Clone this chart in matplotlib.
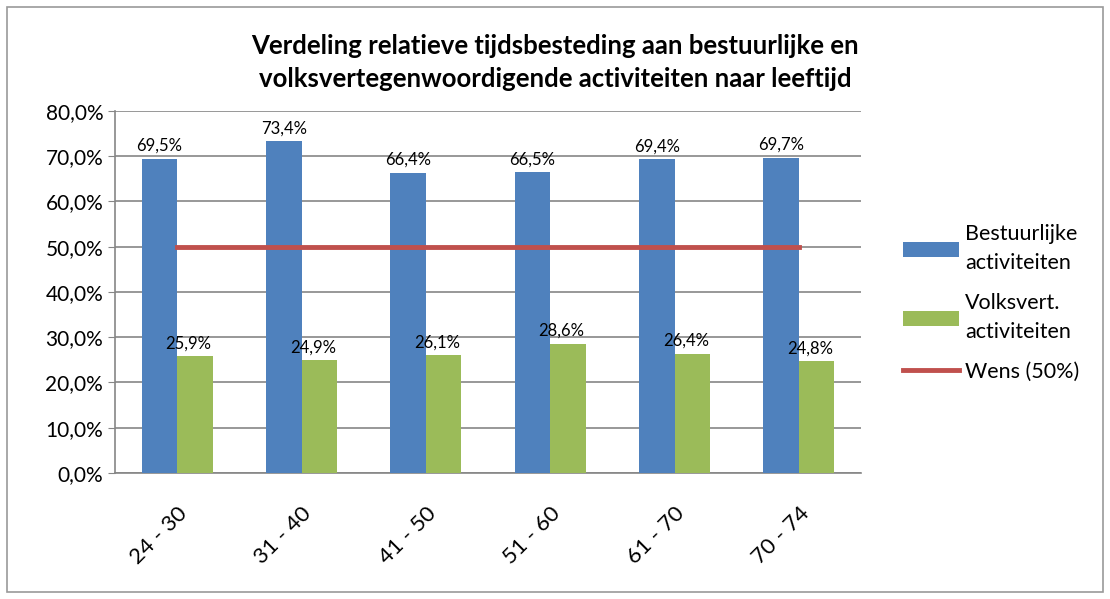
import matplotlib
matplotlib.use("Agg")
import matplotlib.pyplot as plt
import numpy as np
from matplotlib.patches import Rectangle

categories = ["24 - 30", "31 - 40", "41 - 50", "51 - 60", "61 - 70", "70 - 74"]
bestuurlijk = [69.5, 73.4, 66.4, 66.5, 69.4, 69.7]
volksvert = [25.9, 24.9, 26.1, 28.6, 26.4, 24.8]
wens = [50, 50, 50, 50, 50, 50]
yticks = [0, 10, 20, 30, 40, 50, 60, 70, 80]

plt.rcParams['font.family'] = ['Lato', 'DejaVu Sans']

fig = plt.figure(figsize=(11.10, 5.99), dpi=100)
fig.patches.append(Rectangle((0.006, 0.012), 0.988, 0.976, transform=fig.transFigure,
                             fill=False, edgecolor='#9a9a9a', linewidth=1.2))
ax = fig.add_axes([0.1036, 0.2104, 0.6721, 0.6043])

x = np.arange(len(categories))
w = 0.285
blue = '#4f81bd'
green = '#9bbb59'
red = '#c0504d'

b1 = ax.bar(x - w/2, bestuurlijk, w, color=blue, label='Bestuurlijke\nactiviteiten', zorder=3)
b2 = ax.bar(x + w/2, volksvert, w, color=green, label='Volksvert.\nactiviteiten', zorder=3)
l1, = ax.plot(x, wens, color=red, linewidth=3.5, label='Wens (50%)', zorder=4)

for xi, v in zip(x, bestuurlijk):
    ax.text(xi - w/2, v + 1.0, f"{v:.1f}%".replace('.', ','), ha='center', va='bottom', fontsize=12)
for xi, v in zip(x, volksvert):
    ax.text(xi + w/2 - 0.05, v + 1.0, f"{v:.1f}%".replace('.', ','), ha='center', va='bottom', fontsize=12)

ax.set_xlim(-0.5, len(categories) - 0.5)
ax.set_ylim(0, 80)
ax.set_yticks(yticks)
ax.set_yticklabels([f"{t:.1f}%".replace('.', ',') for t in yticks], fontsize=15)
ax.set_xticks(x)
ax.set_xticklabels(categories, rotation=45, ha='right', rotation_mode='anchor', fontsize=16)
ax.tick_params(axis='x', length=0, pad=22)
ax.tick_params(axis='y', length=5, color='#868686', direction='out')
ax.grid(axis='y', color='#868686', linewidth=1.2, zorder=0)
for s in ['top', 'right']:
    ax.spines[s].set_visible(False)
for s in ['left', 'bottom']:
    ax.spines[s].set_color('#868686')
    ax.spines[s].set_linewidth(1.2)

fig.text(0.5, 0.895, "Verdeling relatieve tijdsbesteding aan bestuurlijke en\nvolksvertegenwoordigende activiteiten naar leeftijd",
         ha='center', va='center', fontsize=18.5, fontweight='bold', linespacing=1.45)

leg = ax.legend(handles=[b1, b2, l1], loc='center left', bbox_to_anchor=(1.03, 0.47), frameon=False, fontsize=15.5,
                handlelength=2.6, handleheight=0.7, labelspacing=0.9, handletextpad=0.3)
for t in leg.get_texts():
    t.set_linespacing(1.6)

fig.savefig("out.png", dpi=100)
